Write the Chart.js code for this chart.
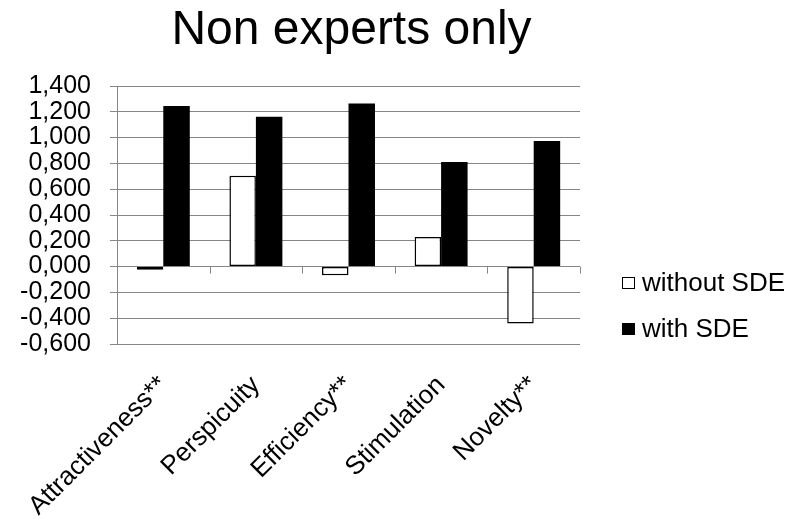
<!DOCTYPE html>
<html>
<head>
<meta charset="utf-8">
<script src="https://cdn.jsdelivr.net/npm/chart.js@4.4.1/dist/chart.umd.min.js"></script>
<style>
  html, body { margin: 0; padding: 0; background: #ffffff; }
  #wrap { width: 802px; height: 519px; }
</style>
</head>
<body>
<div id="wrap"><canvas id="chart"></canvas></div>
<script>
// data
const categories = ['Attractiveness**', 'Perspicuity', 'Efficiency**', 'Stimulation', 'Novelty**'];
const seriesNames = ['without SDE', 'with SDE'];
const withoutSDE = [-0.025, 0.704, -0.067, 0.230, -0.441];
const withSDE = [1.244, 1.161, 1.265, 0.810, 0.973];
const chartTitle = 'Non experts only';

const FONT = 'Liberation Sans, Arial, sans-serif';
const GRID = '#868686';

// tick marks hanging from the zero line at every category boundary
const zeroTicks = {
  id: 'zeroTicks',
  afterDatasetsDraw(chart) {
    const x = chart.scales.x, y = chart.scales.y;
    const y0 = y.getPixelForValue(0);
    const step = (x.right - x.left) / categories.length;
    const ctx = chart.ctx;
    ctx.save();
    ctx.strokeStyle = GRID;
    ctx.lineWidth = 1;
    ctx.beginPath();
    for (let i = 1; i <= categories.length; i++) {
      const px = Math.round(x.left + i * step) + 0.5;
      ctx.moveTo(px, y0);
      ctx.lineTo(px, y0 + 7);
    }
    ctx.stroke();
    ctx.restore();
  }
};

// title centred over the plot, legend to the right of it (like the original)
const titleAndLegend = {
  id: 'titleAndLegend',
  afterDraw(chart) {
    const ctx = chart.ctx;
    const area = chart.chartArea;
    ctx.save();
    ctx.fillStyle = '#000000';
    ctx.font = '48px ' + FONT;
    ctx.textAlign = 'center';
    ctx.textBaseline = 'alphabetic';
    ctx.fillText(chartTitle, (area.left + area.right) / 2 + 3, 44);

    const left = area.right + 42;
    ctx.font = '26px ' + FONT;
    ctx.textBaseline = 'middle';
    ctx.textAlign = 'left';
    chart.data.datasets.forEach((ds, i) => {
      const cy = 283 + i * 46;
      ctx.fillStyle = ds.backgroundColor;
      ctx.fillRect(left, cy - 6, 13, 12);
      ctx.strokeStyle = '#000000';
      ctx.lineWidth = 1;
      ctx.strokeRect(left + 0.5, cy - 5.5, 12, 11);
      ctx.fillStyle = '#000000';
      ctx.fillText(ds.label, left + 20, cy + 1);
    });
    ctx.restore();
  }
};

new Chart(document.getElementById('chart'), {
  type: 'bar',
  data: {
    labels: categories,
    datasets: [
      {
        label: seriesNames[0],
        data: withoutSDE,
        backgroundColor: '#ffffff',
        borderColor: '#000000',
        borderWidth: 1.5,
        borderSkipped: false
      },
      {
        label: seriesNames[1],
        data: withSDE,
        backgroundColor: '#000000',
        borderColor: '#000000',
        borderWidth: 0
      }
    ]
  },
  options: {
    responsive: true,
    maintainAspectRatio: false,
    animation: false,
    categoryPercentage: 0.572,
    barPercentage: 1.0,
    layout: { padding: { top: 86, right: 222, bottom: 0, left: 0 } },
    plugins: {
      legend: { display: false },
      tooltip: { enabled: false },
      title: { display: false }
    },
    scales: {
      x: {
        grid: { display: false },
        border: { display: false },
        afterFit: (axis) => { axis.height = 175; },
        ticks: {
          color: '#000000',
          font: { family: FONT, size: 26 },
          maxRotation: 45,
          minRotation: 45,
          autoSkip: false,
          padding: 18,
          labelOffset: 0
        }
      },
      y: {
        min: -0.6,
        max: 1.4,
        afterFit: (axis) => { axis.width = 117; },
        grid: { color: GRID, lineWidth: 1, tickLength: 7 },
        border: { display: true, color: GRID, width: 1 },
        ticks: {
          stepSize: 0.2,
          autoSkip: false,
          color: '#000000',
          padding: 19,
          font: { family: FONT, size: 25 },
          callback: (v) => Number(v).toFixed(3).replace('.', ',')
        }
      }
    }
  },
  plugins: [zeroTicks, titleAndLegend]
});
</script>
</body>
</html>
